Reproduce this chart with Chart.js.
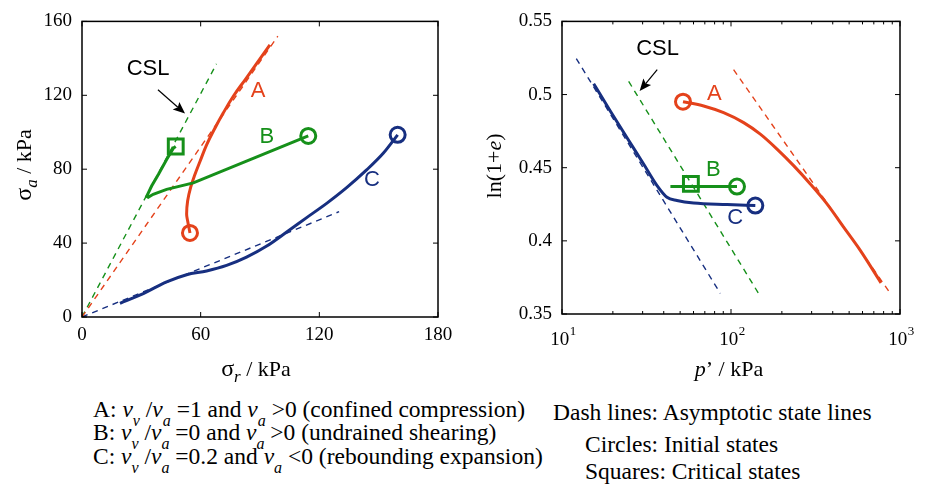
<!DOCTYPE html>
<html><head><meta charset="utf-8">
<script src="https://cdn.jsdelivr.net/npm/chart.js@4/dist/chart.umd.min.js"></script>
<style>
body{margin:0;background:#fff;width:925px;height:491px;position:relative;overflow:hidden;font-family:"Liberation Serif","Times New Roman",serif;color:#000}
canvas{position:absolute;top:0}
#c1{left:0}#c2{left:460px}
.cap{position:absolute;font-size:23.5px;line-height:23px;white-space:nowrap}
.cap i{font-style:italic}
.s{font-size:16px;position:relative;top:9px;font-style:italic}
</style></head>
<body>
<canvas id="c1" width="460" height="390"></canvas>
<canvas id="c2" width="465" height="390"></canvas>
<div class="cap" style="left:93px;top:398px">A: <i>v</i><span class="s">v</span> /<i>v</i><span class="s">a</span> =1 and <i>v</i><span class="s">a</span> &gt;0 (confined compression)</div>
<div class="cap" style="left:93px;top:421px">B: <i>v</i><span class="s">v</span> /<i>v</i><span class="s">a</span> =0 and <i>v</i><span class="s">a</span> &gt;0 (undrained shearing)</div>
<div class="cap" style="left:93px;top:445px">C: <i>v</i><span class="s">v</span> /<i>v</i><span class="s">a</span> =0.2 and <i>v</i><span class="s">a</span> &lt;0 (rebounding expansion)</div>
<div class="cap" style="left:553px;top:401px">Dash lines: Asymptotic state lines</div>
<div class="cap" style="left:585px;top:433px">Circles: Initial states</div>
<div class="cap" style="left:585px;top:460px">Squares: Critical states</div>
<script>
// ---------- data: left plot (sigma_r, sigma_a in kPa) ----------
const xTicksL = [0, 60, 120, 180];
const yTicksL = [0, 40, 80, 120, 160];
const A_sr = [54.6,53.4,52.9,53.4,54.9,57.1,59.7,63.0,67.2,71.4,76.5,83.0,88.0,95.0];
const A_sa = [45.5,52.1,55.7,62.8,70.0,77.1,84.3,93.2,102.2,110.4,119.5,129.2,136.8,147.3];
const B_sr = [114.4,56.3,42.8,36.0,33.5,32.7,35.2,38.6,42.8,46.2,47.4];
const B_sa = [98.0,72.6,69.1,66.4,64.8,65.3,70.9,77.1,85.2,91.4,92.3];
const C_sr = [19.2,31.0,42.8,52.9,63.0,73.1,83.2,93.4,103.5,113.6,123.7,133.8,143.9,152.3,159.6];
const C_sa = [7.4,12.7,19.0,22.9,24.9,27.9,32.4,38.4,46.0,53.8,61.5,70.0,79.6,88.6,98.6];
const ASL_A_sr = [0, 99], ASL_A_sa = [0, 152];
const ASL_B_sr = [0, 68], ASL_B_sa = [0, 137];
const ASL_C_sr = [0, 130], ASL_C_sa = [0, 57];
const init_sr = [54.6, 114.4, 159.6], init_sa = [45.5, 98.0, 98.6];
const crit_sr = [47.4], crit_sa = [92.3];

// ---------- data: right plot (p' in kPa, ln(1+e)) ----------
const xTicksR = [10, 100, 1000];
const xTickBaseR = '10';
const xTickExpR = ['1', '2', '3'];
const xMinorR = [20,30,40,50,60,70,80,90,200,300,400,500,600,700,800,900];
const yTicksR = [0.35, 0.40, 0.45, 0.50, 0.55];
const yTickLabelsR = ['0.35', '0.4', '0.45', '0.5', '0.55'];
const A_p = [52.0,68.9,90.4,118.8,149.1,187.2,234.7,294.6,369.8,463.8,582,772];
const A_e = [0.4951,0.4922,0.4876,0.4808,0.4729,0.4627,0.4514,0.4389,0.4253,0.4094,0.3935,0.3713];
const B_p = [43.8,108.5], B_e = [0.4371,0.4371];
const C_p = [15.4,19.3,24.2,30.4,36.5,41.8,47.9,60.1,94.7,139.3];
const C_e = [0.5074,0.4888,0.4706,0.4525,0.4378,0.4298,0.4276,0.4258,0.4248,0.4241];
const ASL_A_p = [103.6, 877], ASL_A_e = [0.517, 0.3641];
const ASL_B_p = [24.8, 145.5], ASL_B_e = [0.509, 0.3641];
const ASL_C_p = [12.15, 86.4], ASL_C_e = [0.5246, 0.3641];
const init_p = [52.0, 108.5, 139.3], init_e = [0.4951, 0.4371, 0.4241];
const crit_p = [57.9], crit_e = [0.4389];

// ---------- styling ----------
const RED = '#e4421b', GREEN = '#16901a', BLUE = '#172f80';
const SERIF = '"Liberation Serif","Times New Roman",serif';
const SANS = '"Liberation Sans",Arial,sans-serif';
const xy = (xs, ys) => xs.map((v, i) => ({x: v, y: ys[i]}));

function solid(xs, ys, c, mode) {
  const d = {data: xy(xs, ys), showLine: true, borderColor: c, borderWidth: 3, pointRadius: 0, order: 1};
  if (mode === 'mono') d.cubicInterpolationMode = 'monotone'; else d.tension = mode;
  return d;
}
function dashed(xs, ys, c) {
  return {data: xy(xs, ys), showLine: true, borderColor: c, borderWidth: 1.4, borderDash: [6, 5], pointRadius: 0, order: 2};
}
function markers(xs, ys, colors, style, r) {
  return {data: xy(xs, ys), showLine: false, pointStyle: style, pointRadius: r, pointHoverRadius: r,
    pointBorderWidth: 3, pointBorderColor: colors, pointBackgroundColor: 'rgba(0,0,0,0)', order: 0};
}

function drawRich(ctx, parts, cx, cy, rot) {
  ctx.save();
  ctx.translate(cx, cy);
  if (rot) ctx.rotate(rot);
  let w = 0;
  parts.forEach(p => { ctx.font = p.f; p.w = ctx.measureText(p.t).width; w += p.w; });
  let x = -w / 2;
  ctx.fillStyle = '#000';
  ctx.textAlign = 'left';
  ctx.textBaseline = 'alphabetic';
  parts.forEach(p => { ctx.font = p.f; ctx.fillText(p.t, x, 7 + (p.dy || 0)); x += p.w; });
  ctx.restore();
}

const decor = {
  id: 'decor',
  afterDatasetsDraw(chart, args, o) {
    const {ctx, chartArea: a, scales: {x, y}} = chart;
    ctx.save();
    ctx.strokeStyle = '#000'; ctx.lineWidth = 1.5;
    ctx.strokeRect(a.left, a.top, a.right - a.left, a.bottom - a.top);
    ctx.lineWidth = 1;
    const seg = (x1, y1, x2, y2) => { ctx.beginPath(); ctx.moveTo(x1, y1); ctx.lineTo(x2, y2); ctx.stroke(); };
    const L = 5;
    x.ticks.forEach(t => { const p = x.getPixelForValue(t.value); seg(p, a.bottom, p, a.bottom - L); seg(p, a.top, p, a.top + L); });
    y.ticks.forEach(t => { const p = y.getPixelForValue(t.value); seg(a.left, p, a.left + L, p); seg(a.right, p, a.right - L, p); });
    (o.minor || []).forEach(v => { const p = x.getPixelForValue(v); seg(p, a.bottom, p, a.bottom - 3); seg(p, a.top, p, a.top + 3); });
    if (o.powLabels) {
      const pl = o.powLabels;
      pl.vals.forEach((v, i) => {
        ctx.font = '19px ' + SERIF; const wb = ctx.measureText(pl.base).width;
        ctx.font = '13px ' + SERIF; const we = ctx.measureText(pl.exps[i]).width;
        const px = x.getPixelForValue(v) - (wb + we) / 2 + 1;
        ctx.fillStyle = '#000'; ctx.textAlign = 'left'; ctx.textBaseline = 'alphabetic';
        ctx.font = '19px ' + SERIF; ctx.fillText(pl.base, px, a.bottom + 31);
        ctx.font = '13px ' + SERIF; ctx.fillText(pl.exps[i], px + wb + 0.5, a.bottom + 21);
      });
    }
    ctx.textAlign = 'center'; ctx.textBaseline = 'middle';
    (o.texts || []).forEach(t => {
      ctx.font = '22px ' + SANS; ctx.fillStyle = t.c;
      ctx.fillText(t.t, x.getPixelForValue(t.x), y.getPixelForValue(t.y));
    });
    (o.arrows || []).forEach(r => {
      const x1 = x.getPixelForValue(r.x1), y1 = y.getPixelForValue(r.y1);
      const x2 = x.getPixelForValue(r.x2), y2 = y.getPixelForValue(r.y2);
      const ang = Math.atan2(y2 - y1, x2 - x1), hl = 12, hw = 5;
      ctx.strokeStyle = '#000'; ctx.fillStyle = '#000'; ctx.lineWidth = 1.2;
      const bx = x2 - hl * 0.8 * Math.cos(ang), by = y2 - hl * 0.8 * Math.sin(ang);
      seg(x1, y1, bx, by);
      ctx.beginPath();
      ctx.moveTo(x2, y2);
      ctx.lineTo(x2 - hl * Math.cos(ang) + hw * Math.sin(ang), y2 - hl * Math.sin(ang) - hw * Math.cos(ang));
      ctx.lineTo(bx, by);
      ctx.lineTo(x2 - hl * Math.cos(ang) - hw * Math.sin(ang), y2 - hl * Math.sin(ang) + hw * Math.cos(ang));
      ctx.closePath(); ctx.fill();
    });
    ctx.restore();
    (o.titles || []).forEach(t => drawRich(ctx, t.parts, t.cx, t.cy, t.rot));
  }
};

const tickFont = {family: SERIF, size: 19};
function fixedTicks(vals) { return s => { s.ticks = vals.map(v => ({value: v})); }; }

new Chart(document.getElementById('c1'), {
  type: 'scatter',
  data: {datasets: [
    dashed(ASL_A_sr, ASL_A_sa, RED), dashed(ASL_B_sr, ASL_B_sa, GREEN), dashed(ASL_C_sr, ASL_C_sa, BLUE),
    solid(C_sr, C_sa, BLUE, 'mono'), solid(B_sr, B_sa, GREEN, 0), solid(A_sr, A_sa, RED, 0.4),
    markers(init_sr, init_sa, [RED, GREEN, BLUE], 'circle', 7.5),
    markers(crit_sr, crit_sa, [GREEN], 'rect', 10.5)
  ]},
  options: {
    responsive: false, animation: false, devicePixelRatio: 1,
    layout: {padding: {top: 19, right: 22, left: 0, bottom: 0}},
    plugins: {legend: {display: false}, tooltip: {enabled: false},
      decor: {
        texts: [{t: 'CSL', x: 33.4, y: 134.2, c: '#000'}, {t: 'A', x: 89, y: 122.4, c: RED},
                {t: 'B', x: 93.5, y: 97.7, c: GREEN}, {t: 'C', x: 146.6, y: 74.1, c: BLUE}],
        arrows: [{x1: 38.4, y1: 123, x2: 52.1, y2: 110.1}],
        titles: [
          {cx: 24, cy: 165, rot: -Math.PI / 2, parts: [{t: 'σ', f: '24px ' + SERIF}, {t: 'a', f: 'italic 17px ' + SERIF, dy: 6}, {t: ' / kPa', f: '22px ' + SERIF}]},
          {cx: 256, cy: 369, rot: 0, parts: [{t: 'σ', f: '24px ' + SERIF}, {t: 'r', f: 'italic 17px ' + SERIF, dy: 6}, {t: ' / kPa', f: '22px ' + SERIF}]}
        ]
      }
    },
    scales: {
      x: {type: 'linear', min: 0, max: 180, afterBuildTicks: fixedTicks(xTicksL), afterFit: s => { s.height = 73; },
          grid: {display: false, drawTicks: false}, border: {display: false},
          ticks: {font: tickFont, color: '#000', padding: 7, maxRotation: 0}},
      y: {type: 'linear', min: 0, max: 160, afterBuildTicks: fixedTicks(yTicksL), afterFit: s => { s.width = 82; },
          grid: {display: false, drawTicks: false}, border: {display: false},
          ticks: {font: tickFont, color: '#000', padding: 10}}
    }
  },
  plugins: [decor]
});

new Chart(document.getElementById('c2'), {
  type: 'scatter',
  data: {datasets: [
    dashed(ASL_A_p, ASL_A_e, RED), dashed(ASL_B_p, ASL_B_e, GREEN), dashed(ASL_C_p, ASL_C_e, BLUE),
    solid(C_p, C_e, BLUE, 'mono'), solid(B_p, B_e, GREEN, 0), solid(A_p, A_e, RED, 'mono'),
    markers(init_p, init_e, [RED, GREEN, BLUE], 'circle', 7.5),
    markers(crit_p, crit_e, [GREEN], 'rect', 10.5)
  ]},
  options: {
    responsive: false, animation: false, devicePixelRatio: 1,
    layout: {padding: {top: 20, right: 25, left: 0, bottom: 0}},
    plugins: {legend: {display: false}, tooltip: {enabled: false},
      decor: {
        minor: xMinorR,
        powLabels: {vals: xTicksR, base: xTickBaseR, exps: xTickExpR},
        texts: [{t: 'CSL', x: 36.8, y: 0.531, c: '#000'}, {t: 'A', x: 79.6, y: 0.5003, c: RED},
                {t: 'B', x: 78.5, y: 0.4486, c: GREEN}, {t: 'C', x: 106, y: 0.416, c: BLUE}],
        arrows: [{x1: 36.6, y1: 0.5171, x2: 28.8, y2: 0.5024}],
        titles: [
          {cx: 34, cy: 166, rot: -Math.PI / 2, parts: [{t: 'ln(1+', f: '22px ' + SERIF}, {t: 'e', f: 'italic 22px ' + SERIF}, {t: ')', f: '22px ' + SERIF}]},
          {cx: 269, cy: 369, rot: 0, parts: [{t: 'p', f: 'italic 22px ' + SERIF}, {t: '’ / kPa', f: '22px ' + SERIF}]}
        ]
      }
    },
    scales: {
      x: {type: 'logarithmic', min: 10, max: 1000, afterBuildTicks: fixedTicks(xTicksR), afterFit: s => { s.height = 76; },
          grid: {display: false, drawTicks: false}, border: {display: false},
          ticks: {display: false}},
      y: {type: 'linear', min: 0.35, max: 0.55, afterBuildTicks: fixedTicks(yTicksR), afterFit: s => { s.width = 102; },
          grid: {display: false, drawTicks: false}, border: {display: false},
          ticks: {font: tickFont, color: '#000', padding: 10,
                  callback: v => yTickLabelsR[yTicksR.findIndex(t => Math.abs(t - v) < 1e-9)]}}
    }
  },
  plugins: [decor]
});
</script>
</body></html>
